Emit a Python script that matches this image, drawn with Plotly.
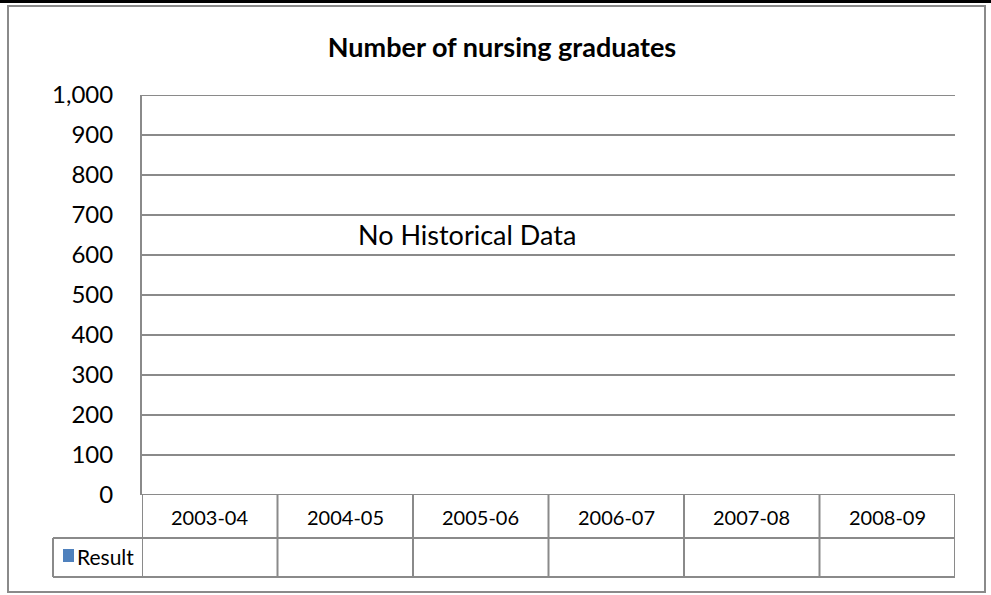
import plotly.graph_objects as go

# -----------------------------
# Data
# -----------------------------
categories = ["2003-04", "2004-05", "2005-06", "2006-07", "2007-08", "2008-09"]
result_values = [None, None, None, None, None, None]
series_name = "Result"
chart_title = "Number of nursing graduates"
empty_note = "No Historical Data"
y_min, y_max = 0, 1000

GRAY = "#8a8a8a"
BLUE = "#4f81bd"
FONT = "Lato"

# plot area in pixels: left 142, right 955, top 95, bottom 495
W, H = 991, 595
L, R, T, B = 142, 36, 95, 100


def px_x(px):
    return (px - L) / (W - L - R)


def px_y(py):
    return (H - B - py) / (H - T - B)


fig = go.Figure()
fig.add_trace(go.Bar(x=list(range(len(categories))), y=result_values,
                     name=series_name, marker_color=BLUE, showlegend=False))

shapes = []
# outer chart border
shapes.append(dict(type="rect", xref="paper", yref="paper",
                   x0=px_x(8), x1=px_x(985), y0=px_y(592), y1=px_y(6),
                   line=dict(color=GRAY, width=2)))
# document table line above the chart
shapes.append(dict(type="line", xref="paper", yref="paper",
                   x0=px_x(0), x1=px_x(991), y0=px_y(1.5), y1=px_y(1.5),
                   line=dict(color="black", width=3)))
for vx in [1, 100, 281, 990]:
    shapes.append(dict(type="line", xref="paper", yref="paper",
                       x0=px_x(vx), x1=px_x(vx), y0=px_y(0), y1=px_y(3),
                       line=dict(color="black", width=2)))

# top and bottom gridlines (plotly skips them at the range edges)
for yv in [y_min, y_max]:
    shapes.append(dict(type="line", xref="paper", yref="y",
                       x0=0, x1=1, y0=yv, y1=yv,
                       line=dict(color=GRAY, width=2)))

# data table under the plot
row1, row2 = px_y(538), px_y(577)
for i in range(len(categories) + 1):
    shapes.append(dict(type="line", xref="x", yref="paper",
                       x0=i - 0.5, x1=i - 0.5, y0=0, y1=row2,
                       line=dict(color=GRAY, width=2)))
for yy in [row1, row2]:
    shapes.append(dict(type="line", xref="paper", yref="paper",
                       x0=px_x(53), x1=1, y0=yy, y1=yy,
                       line=dict(color=GRAY, width=2)))
shapes.append(dict(type="line", xref="paper", yref="paper",
                   x0=px_x(53), x1=px_x(53), y0=row1, y1=row2,
                   line=dict(color=GRAY, width=2)))
# legend key
shapes.append(dict(type="rect", xref="paper", yref="paper",
                   x0=px_x(63), x1=px_x(74), y0=px_y(562), y1=px_y(549),
                   fillcolor=BLUE, line=dict(width=0)))

annotations = []
for i, c in enumerate(categories):
    annotations.append(dict(x=i, xref="x", y=px_y(517), yref="paper",
                            text=c, showarrow=False, yanchor="middle",
                            font=dict(family=FONT, size=20, color="black")))
annotations.append(dict(x=px_x(75), xref="paper", y=px_y(556), yref="paper",
                        text=series_name, showarrow=False, xanchor="left",
                        yanchor="middle",
                        font=dict(family=FONT, size=21, color="black")))
annotations.append(dict(x=px_x(467), xref="paper", y=652, yref="y",
                        text=empty_note, showarrow=False,
                        font=dict(family=FONT, size=27, color="black")))

fig.update_layout(
    width=W, height=H,
    margin=dict(l=L, r=R, t=T, b=B),
    paper_bgcolor="white", plot_bgcolor="white",
    title=dict(text="<b>" + chart_title + "</b>", x=502 / W,
               xanchor="center", y=1 - 48 / H, yanchor="middle",
               font=dict(family=FONT, size=27, color="black")),
    shapes=shapes,
    annotations=annotations,
    showlegend=False,
)
fig.update_xaxes(range=[-0.5, 5.5], showticklabels=False, showgrid=False,
                 zeroline=False, showline=False, fixedrange=True)
fig.update_yaxes(range=[y_min, y_max], dtick=100, tickformat=",",
                 showgrid=True, gridcolor=GRAY, gridwidth=2,
                 zeroline=False, showline=True, linecolor=GRAY, linewidth=2,
                 ticks="", ticklabelstandoff=22,
                 tickfont=dict(family=FONT, size=24, color="black"))

fig.write_html("out.html", config={"displayModeBar": False},
               post_script="document.body.style.margin='0';")
